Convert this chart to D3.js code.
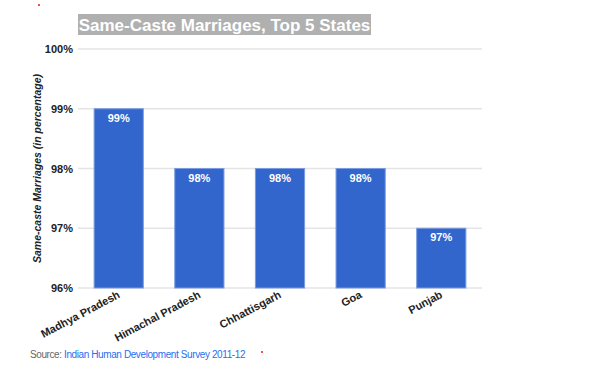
<!DOCTYPE html>
<html lang="en">
<head>
<meta charset="utf-8">
<script src="https://d3js.org/d3.v7.min.js"></script>
<style type="text/css">
body {
  margin: 0;
  padding: 0;
  background: white;
  font-family: "Liberation Sans", Arial, sans-serif;
}
#chart-container {
  width: 600px;
  height: 367px;
}
</style>
</head>
<body>

<div id="chart-container"></div>

<script type="text/javascript">

// chart data
var states = ["Madhya Pradesh", "Himachal Pradesh", "Chhattisgarh", "Goa", "Punjab"];
var sameCaste = [99, 98, 98, 98, 97];
var yTicks = [96, 97, 98, 99, 100];

function drawChart() {

  var width = 600;
  var height = 367;

  var svg = d3.select("#chart-container")
              .append("svg")
              .attr("width", width)
              .attr("height", height);

  // plot area
  var left = 78, right = 482, top = 49, bottom = 288;

  var x = d3.scaleBand()
            .domain(states)
            .range([left, right])
            .paddingInner(0.39)
            .paddingOuter(0.2);

  var y = d3.scaleLinear()
            .domain([96, 100])
            .range([bottom, top]);

  // gridlines
  svg.append("g")
     .selectAll("line")
     .data(yTicks)
     .enter()
     .append("line")
     .attr("x1", left)
     .attr("x2", right)
     .attr("y1", function(d) { return y(d); })
     .attr("y2", function(d) { return y(d); })
     .style("stroke", "#e4e4e4")
     .style("stroke-width", 1.5);

  // y axis labels
  var yAxis = d3.axisLeft(y)
                .tickValues(yTicks)
                .tickSize(0)
                .tickPadding(5)
                .tickFormat(function(d) { return d + "%"; });

  var yg = svg.append("g")
              .attr("transform", "translate(" + left + ",0)")
              .call(yAxis);
  yg.select(".domain").remove();
  yg.selectAll("text")
    .style("font-family", "Liberation Sans, Arial, sans-serif")
    .style("font-size", "11px")
    .style("font-weight", "bold")
    .style("fill", "#222");

  // bars
  svg.selectAll("rect.bar")
     .data(states)
     .enter()
     .append("rect")
     .attr("class", "bar")
     .attr("x", function(d) { return x(d); })
     .attr("y", function(d, i) { return y(sameCaste[i]); })
     .attr("width", x.bandwidth())
     .attr("height", function(d, i) { return bottom - y(sameCaste[i]); })
     .style("fill", "#3366cc")
     .style("stroke", "#7a9be0")
     .style("stroke-width", 1);

  // value labels
  svg.selectAll("text.value")
     .data(states)
     .enter()
     .append("text")
     .attr("class", "value")
     .attr("x", function(d) { return x(d) + x.bandwidth() / 2; })
     .attr("y", function(d, i) { return y(sameCaste[i]) + 13; })
     .attr("text-anchor", "middle")
     .style("font-size", "11px")
     .style("font-weight", "bold")
     .style("fill", "white")
     .text(function(d, i) { return sameCaste[i] + "%"; });

  // x labels, rotated
  svg.selectAll("text.cat")
     .data(states)
     .enter()
     .append("text")
     .attr("class", "cat")
     .attr("text-anchor", "end")
     .attr("transform", function(d) {
        var cx = x(d) + x.bandwidth() / 2 + 2;
        return "translate(" + cx + "," + (bottom + 9) + ") rotate(-28)";
     })
     .style("font-size", "11px")
     .style("font-weight", "bold")
     .style("fill", "#222")
     .text(function(d) { return d; });

  // y axis title
  svg.append("text")
     .attr("transform", "translate(41," + ((top + bottom) / 2) + ") rotate(-90)")
     .attr("text-anchor", "middle")
     .style("font-size", "10.5px")
     .style("font-weight", "bold")
     .style("font-style", "italic")
     .style("fill", "#222")
     .text("Same-caste Marriages (in percentage)");

  // title with grey box
  svg.append("rect")
     .attr("x", 78)
     .attr("y", 14)
     .attr("width", 293)
     .attr("height", 21)
     .style("fill", "#b0b0b0");

  svg.append("text")
     .attr("x", 224.5)
     .attr("y", 31)
     .attr("text-anchor", "middle")
     .style("font-size", "17px")
     .style("font-weight", "bold")
     .style("fill", "white")
     .text("Same-Caste Marriages, Top 5 States");

  // source line
  var src = svg.append("text")
     .attr("x", 30)
     .attr("y", 358)
     .style("font-size", "10px")
     .style("letter-spacing", "-0.4px");
  src.append("tspan").style("fill", "#666").text("Source: ");
  src.append("tspan").style("fill", "#2a6ef0").text("Indian Human Development Survey 2011-12");

  // stray red specks in the original image
  svg.append("rect").attr("x", 38).attr("y", 4).attr("width", 2).attr("height", 2).style("fill", "#f05050");
  svg.append("rect").attr("x", 261).attr("y", 351).attr("width", 2).attr("height", 2).style("fill", "#f05050");
}

drawChart();

</script>
</body>
</html>
